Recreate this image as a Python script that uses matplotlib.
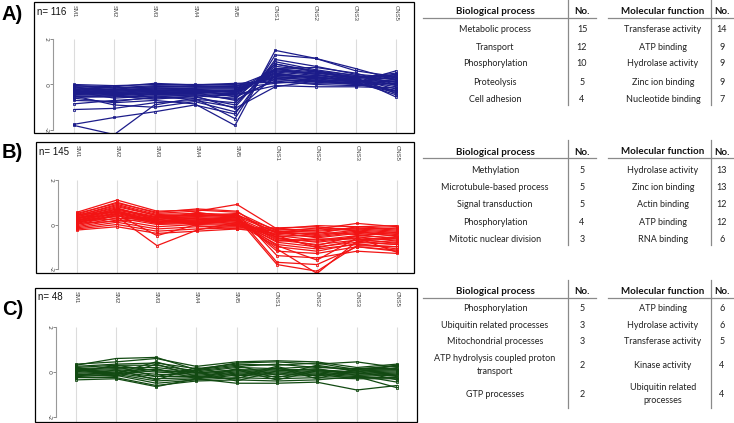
import matplotlib
matplotlib.use("Agg")
import matplotlib.pyplot as plt
from matplotlib.patches import Rectangle
from matplotlib.lines import Line2D

W, H = 734, 423

samples = ["SM1", "SM2", "SM3", "SM4", "SM5", "CNS1", "CNS2", "CNS3", "CNS5"]

# cluster A (n=116) (a subset of profiles)
profiles_a = [
    [-0.05, -0.10, 0.05, -0.02, 0.05, 0.10, 0.05, 0.10, 0.60],
    [-0.10, -0.15, -0.05, -0.08, -0.05, 0.20, 0.15, 0.05, 0.40],
    [-0.15, -0.20, -0.10, -0.10, -0.10, 0.30, 0.20, 0.15, 0.30],
    [-0.20, -0.25, -0.15, -0.15, -0.15, 0.35, 0.25, 0.10, 0.20],
    [-0.25, -0.25, -0.20, -0.20, -0.20, 0.40, 0.30, 0.20, 0.10],
    [-0.30, -0.30, -0.25, -0.25, -0.25, 0.45, 0.35, 0.15, 0.00],
    [-0.35, -0.35, -0.30, -0.25, -0.30, 0.50, 0.30, 0.20, -0.10],
    [-0.40, -0.40, -0.35, -0.30, -0.35, 0.55, 0.40, 0.25, -0.20],
    [-0.45, -0.45, -0.35, -0.35, -0.40, 0.60, 0.45, 0.20, -0.30],
    [-0.50, -0.50, -0.40, -0.40, -0.45, 0.65, 0.50, 0.30, -0.40],
    [-0.55, -0.55, -0.45, -0.45, -0.50, 0.70, 0.55, 0.25, -0.55],
    [-0.30, -0.60, -0.50, -0.50, -0.60, 0.80, 0.60, 0.30, 0.25],
    [-0.20, -0.40, -0.30, -0.35, -0.70, 0.25, 0.10, 0.00, 0.15],
    [-0.40, -0.30, -0.20, -0.20, -0.55, 0.15, 0.00, -0.05, 0.05],
    [-0.10, -0.35, -0.25, -0.30, -0.45, -0.05, -0.10, -0.10, -0.15],
    [-0.35, -0.20, -0.30, -0.15, -0.15, 0.05, 0.20, 0.00, -0.25],
    [0.00, -0.05, 0.00, 0.00, 0.00, 0.25, 0.40, 0.30, 0.50],
    [-0.05, -0.15, -0.10, -0.05, -0.10, 0.60, 0.50, 0.35, 0.35],
    [-0.25, -0.45, -0.40, -0.30, -0.30, 0.70, 0.45, 0.10, -0.45],
    [-0.45, -0.35, -0.45, -0.40, -0.25, 0.35, 0.15, 0.05, -0.35],
    [-0.15, -0.25, -0.15, -0.20, -0.35, 0.50, 0.25, 0.25, 0.45],
    [-0.55, -0.50, -0.55, -0.45, -0.65, 0.90, 0.60, 0.40, -0.05],
    [-0.85, -0.70, -0.60, -0.55, -0.90, 0.90, 0.55, 0.35, 0.10],
    [-1.10, -1.05, -0.80, -0.70, -1.00, 1.00, 0.65, 0.40, 0.20],
    [-1.75, -1.45, -1.20, -0.90, -1.30, 1.10, 0.80, 0.45, 0.30],
    [-1.80, -2.20, -0.90, -0.60, -1.50, 1.30, 1.15, 0.70, 0.20],
    [-0.60, -0.80, -0.70, -0.85, -1.80, 1.50, 1.15, 0.60, 0.35],
    [-0.50, -0.90, -1.00, -0.75, -1.20, 0.40, 0.35, 0.10, -0.30],
    [-0.70, -0.75, -0.55, -0.65, -0.80, 0.70, 0.75, 0.50, 0.00],
    [-0.25, -0.50, -0.65, -0.50, -1.05, -0.10, 0.15, 0.10, 0.45],
]

# cluster B (n=145)
profiles_b = [
    [0.55, 1.10, 0.60, 0.65, 0.55, -0.30, -0.50, -0.30, -0.40],
    [0.45, 1.00, 0.50, 0.60, 0.90, -0.20, -0.30, -0.20, -0.30],
    [0.40, 0.90, 0.45, 0.50, 0.45, -0.40, -0.40, -0.10, -0.20],
    [0.35, 0.80, 0.40, 0.45, 0.40, -0.25, -0.20, 0.05, -0.10],
    [0.30, 0.70, 0.35, 0.40, 0.35, -0.35, -0.60, -0.40, -0.50],
    [0.25, 0.65, 0.30, 0.35, 0.30, -0.50, -0.70, -0.50, -0.60],
    [0.20, 0.60, 0.25, 0.30, 0.25, -0.60, -0.80, -0.60, -0.70],
    [0.15, 0.55, 0.20, 0.25, 0.20, -0.70, -0.90, -0.70, -0.80],
    [0.10, 0.50, 0.15, 0.20, 0.15, -0.80, -1.00, -0.80, -0.90],
    [0.05, 0.45, 0.10, 0.15, 0.10, -0.90, -1.10, -0.90, -1.00],
    [0.00, 0.40, 0.05, 0.10, 0.05, -1.00, -1.20, -0.85, -1.10],
    [-0.05, 0.30, 0.00, 0.05, 0.00, -0.45, -0.55, -0.35, -0.45],
    [-0.10, 0.20, -0.10, 0.00, -0.05, -0.55, -0.45, -0.25, -0.35],
    [-0.15, 0.10, -0.20, -0.10, -0.10, -0.30, -0.35, -0.45, -0.65],
    [-0.20, 0.00, -0.30, -0.20, -0.15, -0.15, -0.10, -0.30, -0.55],
    [-0.25, -0.10, -0.40, -0.30, -0.20, -0.40, -0.25, -0.15, -0.25],
    [0.30, 0.45, -0.50, 0.00, 0.20, -0.65, -0.75, -0.55, -0.75],
    [0.20, 0.35, -0.95, -0.25, 0.10, -0.75, -0.65, -0.65, -0.85],
    [0.35, 0.75, 0.20, 0.55, 0.30, -1.20, -1.30, -1.00, -1.20],
    [0.25, 0.70, 0.30, 0.35, 0.50, -1.40, -1.50, -1.20, -1.30],
    [0.40, 0.85, 0.40, 0.40, 0.40, -1.70, -1.80, -1.00, -1.15],
    [0.30, 0.60, 0.15, 0.20, 0.30, -1.80, -2.10, -0.95, -1.00],
    [0.20, 0.50, 0.10, 0.15, 0.25, -1.10, -2.20, -0.75, -0.90],
    [0.10, 0.40, 0.05, 0.10, 0.20, -0.95, -1.60, -0.60, -1.25],
    [0.50, 0.95, 0.55, 0.70, 0.60, -0.60, -0.95, -0.50, -0.35],
    [0.15, 0.25, 0.35, 0.25, 0.00, -0.35, -0.15, -0.20, -0.15],
    [0.05, 0.15, 0.25, -0.05, -0.20, -0.20, -0.05, -0.10, -0.05],
    [0.45, 0.55, 0.10, 0.30, 0.15, -0.50, -1.05, -0.70, -0.60],
]

# cluster C (n=48)
profiles_c = [
    [0.35, 0.45, 0.60, 0.25, 0.45, 0.50, 0.45, 0.20, 0.35],
    [0.30, 0.60, 0.65, 0.10, 0.40, 0.45, 0.35, 0.45, 0.20],
    [0.25, 0.35, 0.40, 0.15, 0.35, 0.30, 0.40, 0.10, 0.30],
    [0.20, 0.30, 0.30, 0.05, 0.25, 0.35, 0.20, 0.15, 0.15],
    [0.15, 0.20, 0.20, 0.00, 0.20, 0.15, 0.25, 0.05, 0.10],
    [0.10, 0.15, 0.10, -0.05, 0.10, 0.10, 0.10, 0.00, 0.05],
    [0.05, 0.10, 0.00, -0.10, 0.05, 0.05, 0.05, -0.05, 0.00],
    [0.00, 0.05, -0.10, -0.15, 0.00, 0.00, 0.00, -0.10, -0.05],
    [-0.05, 0.00, -0.20, -0.20, -0.05, -0.05, -0.05, -0.15, -0.10],
    [-0.10, -0.05, -0.30, -0.25, -0.10, -0.10, -0.10, -0.20, -0.15],
    [-0.15, -0.10, -0.40, -0.30, -0.15, -0.20, -0.15, -0.25, -0.25],
    [-0.20, -0.15, -0.50, -0.35, -0.25, -0.30, -0.25, -0.30, -0.30],
    [-0.25, -0.25, -0.60, -0.40, -0.35, -0.40, -0.35, -0.20, -0.70],
    [-0.35, -0.30, -0.65, -0.30, -0.50, -0.50, -0.45, -0.80, -0.60],
    [0.05, 0.25, -0.20, 0.10, 0.30, -0.15, 0.30, 0.05, -0.35],
    [-0.10, -0.20, 0.35, -0.20, -0.30, 0.20, -0.30, 0.15, 0.25],
    [0.20, -0.10, 0.15, -0.30, 0.15, -0.25, 0.10, -0.05, -0.20],
    [-0.20, 0.10, -0.35, 0.20, -0.20, 0.25, -0.20, 0.10, 0.10],
    [0.00, 0.30, 0.05, 0.00, -0.40, 0.05, 0.15, -0.15, -0.45],
    [0.10, -0.05, 0.45, -0.05, 0.10, -0.35, 0.05, 0.00, 0.30],
]

counts_n = [116, 145, 48]
letters = ["A)", "B)", "C)"]
colors = ["#1c1c8a", "#f21414", "#124a12"]

bp_a = ["Metabolic process", "Transport", "Phosphorylation", "Proteolysis", "Cell adhesion"]
bp_a_no = [15, 12, 10, 5, 4]
mf_a = ["Transferase activity", "ATP binding", "Hydrolase activity", "Zinc ion binding", "Nucleotide binding"]
mf_a_no = [14, 9, 9, 9, 7]

bp_b = ["Methylation", "Microtubule-based process", "Signal transduction", "Phosphorylation",
        "Mitotic nuclear division"]
bp_b_no = [5, 5, 5, 4, 3]
mf_b = ["Hydrolase activity", "Zinc ion binding", "Actin binding", "ATP binding", "RNA binding"]
mf_b_no = [13, 13, 12, 12, 6]

bp_c = ["Phosphorylation", "Ubiquitin related processes", "Mitochondrial processes",
        "ATP hydrolysis coupled proton\ntransport", "GTP processes"]
bp_c_no = [5, 3, 3, 2, 2]
mf_c = ["ATP binding", "Hydrolase activity", "Transferase activity", "Kinase activity",
        "Ubiquitin related\nprocesses"]
mf_c_no = [6, 6, 5, 4, 4]

fig = plt.figure(figsize=(W / 100, H / 100), dpi=100)


def fx(px):
    return px / W


def fy(py):
    return 1 - py / H


# pixel layout of each panel: box, first/last sample x, y=+2 / y=-2 rows, y-axis x
layouts = [
    dict(box=(34, 414, 2, 133), x0=74, x8=396, y2=39, ym2=130, yax=53, letter_y=14, n_y=12),
    dict(box=(36, 414, 142, 273), x0=77, x8=397, y2=180, ym2=269, yax=58, letter_y=153, n_y=152),
    dict(box=(35, 417, 288, 422), x0=76, x8=397, y2=327, ym2=417, yax=56, letter_y=309, n_y=297),
]


def draw_panel(lay, profiles, color, n, letter):
    l, r, t, b = lay["box"]
    ax = fig.add_axes([fx(l), fy(b), fx(r - l), (b - t) / H])
    sx = (lay["x8"] - lay["x0"]) / 8
    sy = (lay["ym2"] - lay["y2"]) / 4
    ax.set_xlim((l - lay["x0"]) / sx, (r - lay["x0"]) / sx)
    ax.set_ylim(-2 - (b - lay["ym2"]) / sy, 2 + (lay["y2"] - t) / sy)
    xs = list(range(len(samples)))
    ax.vlines(xs, -3, 2, color="#dcdcdc", lw=0.8, zorder=0)
    for p in profiles:
        ax.plot(xs, p, color=color, lw=0.9, marker="s", ms=1.6, mfc="none",
                mew=0.6, zorder=2)
    for s in ("top", "right", "bottom"):
        ax.spines[s].set_visible(False)
    ax.spines["left"].set_position(("data", (lay["yax"] - lay["x0"]) / sx))
    ax.spines["left"].set_bounds(-2, 2)
    ax.spines["left"].set_color("#999999")
    ax.spines["left"].set_linewidth(0.8)
    ax.set_yticks([-2, 0, 2])
    ax.set_yticklabels(["-2", "0", "2"], rotation=-90, va="center", fontsize=4.5,
                       color="#444444")
    ax.tick_params(axis="y", length=2, width=0.6, color="#777777", pad=1)
    ax.set_xticks([])
    ax.add_patch(Rectangle((0, 0), 1, 1, transform=ax.transAxes, fill=False,
                           lw=0.9, ec="black", clip_on=False, zorder=5))
    tr = ax.get_xaxis_transform()
    for i, s in enumerate(samples):
        ax.text(i, 1 - 3 / (b - t), s, transform=tr, rotation=-90, ha="center",
                va="top", fontsize=4.3, color="#444444", family="Liberation Sans")
    fig.text(fx(l + 3), fy(lay["n_y"]), "n= %d" % n, fontsize=7, va="center",
             family="Liberation Sans", color="#111111")
    fig.text(fx(2), fy(lay["letter_y"]), letter, fontsize=14.5, fontweight="bold",
             va="center", family="Liberation Sans")


def hline(x1, x2, y):
    fig.add_artist(Line2D([fx(x1), fx(x2)], [fy(y), fy(y)], color="#8a8a8a", lw=0.9))


def vline(x, y1, y2):
    fig.add_artist(Line2D([fx(x), fx(x)], [fy(y1), fy(y2)], color="#8a8a8a", lw=0.9))


def draw_table(top, bottom, rows_y, bp, bp_no, mf, mf_no):
    font = dict(family="Lato", fontsize=6.5, color="#222222", ha="center", va="center",
                linespacing=1.5)
    bold = dict(font, fontweight="bold", fontsize=7.0, color="#111111")
    fig.text(fx(495), fy(top + 12), "Biological process", **bold)
    fig.text(fx(582), fy(top + 12), "No.", **bold)
    fig.text(fx(663), fy(top + 11), "Molecular function", **bold)
    fig.text(fx(722), fy(top + 12), "No.", **bold)
    hline(423, 596, top + 18)
    hline(608, 734, top + 18)
    vline(568, top, bottom)
    vline(711, top, bottom)
    for y, a, an, m, mn in zip(rows_y, bp, bp_no, mf, mf_no):
        fig.text(fx(495), fy(y), a, **font)
        fig.text(fx(582), fy(y), str(an), **font)
        fig.text(fx(663), fy(y), m, **font)
        fig.text(fx(722), fy(y), str(mn), **font)


for lay, prof, col, n, let in zip(layouts, [profiles_a, profiles_b, profiles_c],
                                  colors, counts_n, letters):
    draw_panel(lay, prof, col, n, let)

draw_table(0, 105, [30, 47, 64, 82, 99], bp_a, bp_a_no, mf_a, mf_a_no)
draw_table(140, 245, [170, 187, 204, 222, 239], bp_b, bp_b_no, mf_b, mf_b_no)
draw_table(280, 408, [308, 325, 342, 365, 394], bp_c, bp_c_no, mf_c, mf_c_no)

fig.savefig("out.png", dpi=100)
